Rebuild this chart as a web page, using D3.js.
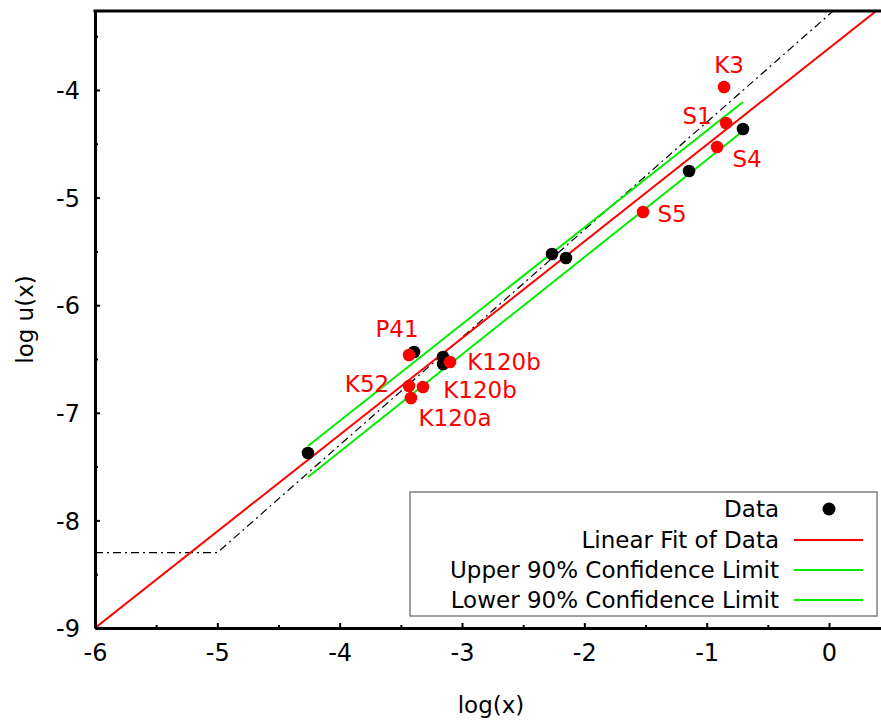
<!DOCTYPE html>
<html>
<head>
<meta charset="utf-8">
<script src="https://cdn.jsdelivr.net/npm/d3@7"></script>
<style>
  body { margin: 0; background: #fff; }
  svg { display: block; }
  text { font-family: "DejaVu Sans", Verdana, sans-serif; }
</style>
</head>
<body>
<svg id="chart" width="881" height="721"></svg>
<script>
// Measured data points (log-log)
const dataX = [-4.259, -3.392, -3.155, -3.155, -2.264, -2.150, -1.144, -0.703];
const dataY = [-7.374, -6.435, -6.481, -6.546, -5.524, -5.561, -4.753, -4.362];

// Named samples
const sampleNames = ["K3", "S1", "S4", "S5", "P41", "K120b", "K52", "K120b", "K120a"];
const sampleX = [-0.858, -0.842, -0.915, -1.520, -3.433, -3.098, -3.433, -3.319, -3.417];
const sampleY = [-3.972, -4.307, -4.530, -5.134, -6.463, -6.528, -6.751, -6.760, -6.862];

// Linear fit and 90% confidence limits
const fitX = [-6, 0.5];
const fitY = [-9, -3.163];
const upperX = [-4.259, -0.703];
const upperY = [-7.309, -4.112];
const lowerX = [-4.259, -0.703];
const lowerY = [-7.597, -4.381];

// Reference limit curve (dash-dot)
const limitX = [-6, -5, 0.5];
const limitY = [-8.3, -8.3, -2.8];

// Axis ticks
const xTicks = [-6, -5, -4, -3, -2, -1, 0];
const yTicks = [-9, -8, -7, -6, -5, -4];
const xMinorTicks = [-5.5, -4.5, -3.5, -2.5, -1.5, -0.5];
const yMinorTicks = [-8.5, -7.5, -6.5, -5.5, -4.5, -3.5];

const legendLabels = ["Data", "Linear Fit of Data", "Upper 90% Confidence Limit", "Lower 90% Confidence Limit"];

// ---- layout ----
const plot = { left: 95, right: 881, top: 11, bottom: 628 };
const labelOffset = [[5, -22], [-29, -7], [30, 12], [29, 2], [-12, -26], [54, 0], [-42, -2], [57, 3], [44, 20]];

const svg = d3.select("#chart");
const x = d3.scaleLinear().domain([-6, 0.425]).range([plot.left, plot.right]);
const y = d3.scaleLinear().domain([-9, -3.266]).range([plot.bottom, plot.top]);

svg.append("defs").append("clipPath").attr("id", "plotClip")
  .append("rect")
  .attr("x", plot.left).attr("y", plot.top)
  .attr("width", plot.right - plot.left).attr("height", plot.bottom - plot.top);

const zip = (xs, ys) => xs.map((v, i) => [v, ys[i]]);
const line = d3.line().x(d => x(d[0])).y(d => y(d[1]));

const lines = svg.append("g").attr("clip-path", "url(#plotClip)");
lines.append("path").datum(zip(limitX, limitY))
  .attr("d", line).attr("fill", "none")
  .attr("stroke", "#000").attr("stroke-width", 1.2)
  .attr("stroke-dasharray", "8,4,2,4");
lines.append("path").datum(zip(fitX, fitY))
  .attr("d", line).attr("fill", "none")
  .attr("stroke", "#ff0000").attr("stroke-width", 2);
lines.append("path").datum(zip(upperX, upperY))
  .attr("d", line).attr("fill", "none")
  .attr("stroke", "#00ee00").attr("stroke-width", 2);
lines.append("path").datum(zip(lowerX, lowerY))
  .attr("d", line).attr("fill", "none")
  .attr("stroke", "#00ee00").attr("stroke-width", 2);

// Data points
svg.append("g").selectAll("circle").data(zip(dataX, dataY)).join("circle")
  .attr("cx", d => x(d[0])).attr("cy", d => y(d[1])).attr("r", 6.3)
  .attr("fill", "#000");

// Named samples
svg.append("g").selectAll("circle").data(zip(sampleX, sampleY)).join("circle")
  .attr("cx", d => x(d[0])).attr("cy", d => y(d[1])).attr("r", 6.3)
  .attr("fill", "#ff0000");

svg.append("g").selectAll("text").data(sampleNames).join("text")
  .attr("x", (d, i) => x(sampleX[i]) + labelOffset[i][0])
  .attr("y", (d, i) => y(sampleY[i]) + labelOffset[i][1])
  .attr("dy", "0.36em")
  .attr("text-anchor", "middle")
  .attr("font-size", 23)
  .attr("fill", "#ff0000")
  .text(d => d);

// Axes
function styleAxis(g, w) {
  g.select(".domain").attr("stroke", "#000").attr("stroke-width", w);
  g.selectAll(".tick line").attr("stroke", "#000").attr("stroke-width", 2);
  g.selectAll(".tick text").attr("font-size", 24).attr("fill", "#000")
    .attr("font-family", '"DejaVu Sans", Verdana, sans-serif');
}

const xAxis = svg.append("g").attr("transform", `translate(0,${plot.bottom})`)
  .call(d3.axisBottom(x).tickValues(xTicks).tickFormat(d3.format("d"))
    .tickSizeInner(-5).tickSizeOuter(0).tickPadding(16));
styleAxis(xAxis, 3);
xAxis.selectAll(".tick text").text(d => d < 0 ? "-" + Math.abs(d) : d);

svg.append("g").attr("transform", `translate(0,${plot.bottom})`)
  .call(d3.axisBottom(x).tickValues(xMinorTicks).tickFormat("")
    .tickSizeInner(-3).tickSizeOuter(0))
  .call(g => { g.select(".domain").remove(); g.selectAll(".tick line").attr("stroke", "#000").attr("stroke-width", 2); });

const yAxis = svg.append("g").attr("transform", `translate(${plot.left},0)`)
  .call(d3.axisLeft(y).tickValues(yTicks).tickFormat(d3.format("d"))
    .tickSizeInner(-5).tickSizeOuter(0).tickPadding(15));
styleAxis(yAxis, 3);
yAxis.selectAll(".tick text").text(d => "-" + Math.abs(d)).attr("dy", "0.36em");

svg.append("g").attr("transform", `translate(${plot.left},0)`)
  .call(d3.axisLeft(y).tickValues(yMinorTicks).tickFormat("")
    .tickSizeInner(-3).tickSizeOuter(0))
  .call(g => { g.select(".domain").remove(); g.selectAll(".tick line").attr("stroke", "#000").attr("stroke-width", 2); });

// Top frame line
svg.append("line")
  .attr("x1", plot.left - 1.5).attr("x2", plot.right)
  .attr("y1", plot.top).attr("y2", plot.top)
  .attr("stroke", "#000").attr("stroke-width", 3);

// Axis titles
svg.append("text")
  .attr("x", (plot.left + plot.right) / 2 + 3).attr("y", 705)
  .attr("dy", "0.36em").attr("text-anchor", "middle")
  .attr("font-size", 23).text("log(x)");
svg.append("text")
  .attr("transform", `translate(25,${(plot.top + plot.bottom) / 2}) rotate(-90)`)
  .attr("dy", "0.36em").attr("text-anchor", "middle")
  .attr("font-size", 23).text("log u(x)");

// Legend
const legend = svg.append("g");
legend.append("rect")
  .attr("x", 410).attr("y", 492).attr("width", 467).attr("height", 124)
  .attr("fill", "#fff").attr("stroke", "#808080").attr("stroke-width", 1.5);
const rowY = [509, 540, 570, 600];
legendLabels.forEach((lab, i) => {
  legend.append("text")
    .attr("x", 779).attr("y", rowY[i]).attr("dy", "0.36em")
    .attr("text-anchor", "end").attr("font-size", 23).attr("fill", "#000")
    .text(lab);
});
legend.append("circle").attr("cx", 829).attr("cy", rowY[0]).attr("r", 6.5).attr("fill", "#000");
legend.append("line").attr("x1", 794).attr("x2", 863).attr("y1", rowY[1]).attr("y2", rowY[1])
  .attr("stroke", "#ff0000").attr("stroke-width", 2);
legend.append("line").attr("x1", 794).attr("x2", 863).attr("y1", rowY[2]).attr("y2", rowY[2])
  .attr("stroke", "#00ee00").attr("stroke-width", 2);
legend.append("line").attr("x1", 794).attr("x2", 863).attr("y1", rowY[3]).attr("y2", rowY[3])
  .attr("stroke", "#00ee00").attr("stroke-width", 2);
</script>
</body>
</html>
